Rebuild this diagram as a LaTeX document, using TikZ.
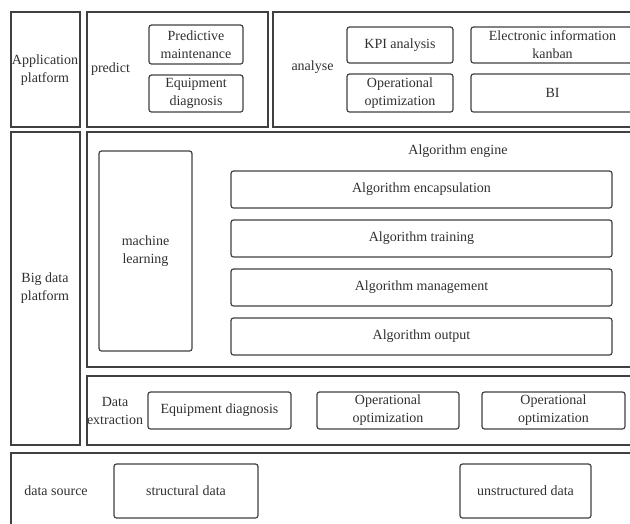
\documentclass[tikz,border=0pt]{standalone}
\usepackage{fontspec}
\setmainfont{Liberation Serif}
\definecolor{lc}{HTML}{404040}
\definecolor{tc}{HTML}{303030}
\newcommand\bx[7]{\node[#6, minimum width={#4-#2}, minimum height={#5-#3}] (#1) at ({(#2+#4)/2},{(#3+#5)/2}) {#7};}
\tikzset{
  obox/.style={draw=lc, line width=1.2pt, rectangle, inner sep=0pt, text=tc,
    font=\fontsize{14}{18}\selectfont, align=center},
  ibox/.style={obox, rounded corners=2.5pt},
  lbl/.style={inner sep=0pt, text=tc, font=\fontsize{14}{18}\selectfont, align=center}
}
\begin{document}
\begin{tikzpicture}[x=1pt,y=-1pt]
\useasboundingbox (0,0) rectangle (630,523);
\clip (0,0) rectangle (630,523);
% outer boxes
\bx{app}{11}{12}{80}{127}{obox}{}
\bx{pred}{87}{12}{268}{127}{obox}{}
\bx{ana}{273}{12}{640}{127}{obox}{}
\bx{big}{11}{132}{80}{445}{obox}{}
\bx{eng}{87}{132}{640}{367}{obox}{}
\bx{ext}{87}{376}{640}{445}{obox}{}
\bx{src}{11}{453}{640}{535}{obox}{}
% labels
\node[lbl] (tapp) at (45,70) {Application\\platform};
\node[lbl] (tpred) at (110.5,69) {predict};
\node[lbl] (tana) at (312.5,67) {analyse};
\node[lbl] (tbig) at (45,288) {Big data\\platform};
\node[lbl] (teng) at (458,151) {Algorithm engine};
\node[lbl] (text) at (115,411) {Data\\extraction};
\node[lbl] (tsrc) at (56,491) {data source};
% inner boxes
\bx{pm}{149}{25}{243}{64}{ibox}{Predictive\\maintenance}
\bx{ed}{149}{75}{243}{112}{ibox}{Equipment\\diagnosis}
\bx{kpi}{347}{27}{453}{63}{ibox}{KPI analysis}
\bx{oo}{347}{74}{453}{112}{ibox}{Operational\\optimization}
\bx{eik}{471}{27}{634}{63}{ibox}{Electronic information\\kanban}
\bx{bi}{471}{74}{634}{112}{ibox}{BI}
\bx{ml}{99}{151}{192}{351}{ibox}{machine\\learning}
\bx{ae1}{231}{171}{612}{208}{ibox}{Algorithm encapsulation}
\bx{ae2}{231}{220}{612}{257}{ibox}{Algorithm training}
\bx{ae3}{231}{269}{612}{306}{ibox}{Algorithm management}
\bx{ae4}{231}{318}{612}{355}{ibox}{Algorithm output}
\bx{ed2}{148}{392}{291}{429}{ibox}{Equipment diagnosis}
\bx{oo2}{317}{392}{459}{429}{ibox}{Operational\\optimization}
\bx{oo3}{482}{392}{625}{429}{ibox}{Operational\\optimization}
\bx{sd}{114}{464}{258}{518}{ibox}{structural data}
\bx{ud}{460}{464}{591}{518}{ibox}{unstructured data}
\end{tikzpicture}
\end{document}
